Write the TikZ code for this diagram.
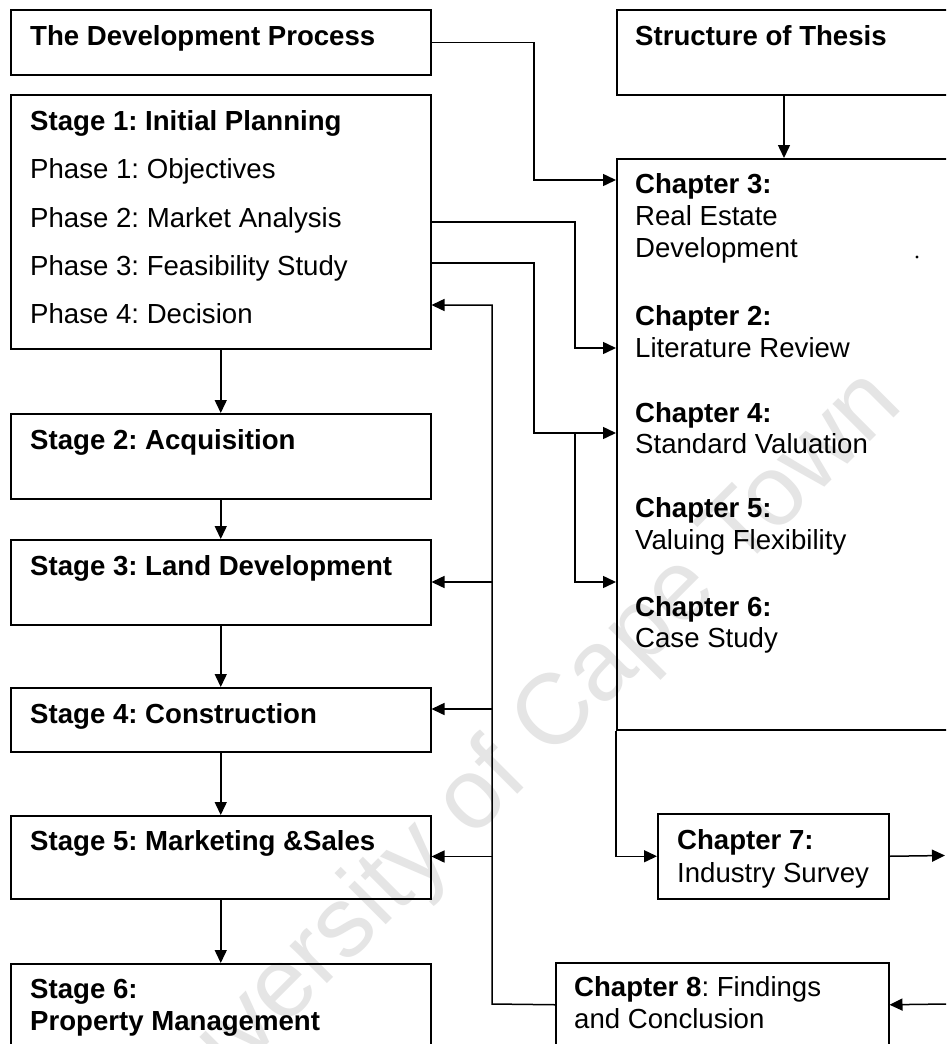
\documentclass[tikz,border=0pt]{standalone}
\usepackage{fontspec}
\setmainfont{Liberation Sans}
\usetikzlibrary{arrows.meta}
\frenchspacing
\newcommand\bodysize{\fontsize{27.6}{32}\selectfont}
\begin{document}
\begin{tikzpicture}[x=1pt,y=-1pt,
  box/.style={draw, line width=1.5pt, anchor=north west, inner sep=0pt, minimum width=420pt},
  lbl/.style={anchor=base west, inner sep=0pt, font=\bodysize},
  hd/.style={lbl, font=\bodysize\bfseries},
  link/.style={line width=1.5pt},
  arr/.style={link, -{Triangle[length=13pt,width=12pt]}}]
\useasboundingbox (0,0) rectangle (946,1044);
\clip (0,0) rectangle (946,1044);
\fill[white] (0,0) rectangle (946,1044);

% faint background stamp
\node[rotate=45, text=black!10, inner sep=0pt, font=\fontsize{100}{100}\selectfont] (stamp) at (505,770) {University of Cape Town};

% development process column
\node[box, minimum height=65pt] (dev) at (10,9) {};
\node[box, minimum height=254pt] (st1) at (10,94) {};
\node[box, minimum height=85pt] (st2) at (10,413) {};
\node[box, minimum height=85pt] (st3) at (10,539) {};
\node[box, minimum height=64pt] (st4) at (10,687) {};
\node[box, minimum height=83pt] (st5) at (10,815) {};
\node[box, minimum height=95pt] (st6) at (10,963) {};

\node[hd] (tdev) at (30,45) {The Development Process};
\node[hd] (ts1) at (30,130) {Stage 1: Initial Planning};
\node[lbl] (ph1) at (30,178) {Phase 1: Objectives};
\node[lbl] (ph2) at (30,227) {Phase 2: Market Analysis};
\node[lbl] (ph3) at (30,275) {Phase 3: Feasibility Study};
\node[lbl] (ph4) at (30,323) {Phase 4: Decision};
\node[hd] (ts2) at (30,449) {Stage 2: Acquisition};
\node[hd] (ts3) at (30,575) {Stage 3: Land Development};
\node[hd] (ts4) at (30,723) {Stage 4: Construction};
\node[hd] (ts5) at (30,850) {Stage 5: Marketing \&Sales};
\node[hd] (ts6a) at (30,998) {Stage 6:};
\node[hd] (ts6b) at (30,1030) {Property Management};

% thesis structure column
\node[box, minimum width=340pt, minimum height=85pt] (thesis) at (616,9) {};
\node[box, minimum width=340pt, minimum height=571pt] (body) at (616,158) {};
\node[box, minimum width=231pt, minimum height=85pt] (ch7) at (657,813) {};
\node[box, minimum width=333pt, minimum height=84pt] (ch8) at (555,962) {};

\node[hd] (tth) at (635,45) {Structure of Thesis};
\node[hd] (c3a) at (635,193) {Chapter 3:};
\node[lbl] (c3b) at (635,225) {Real Estate};
\node[lbl] (c3c) at (635,257) {Development};
\node[hd] (c2a) at (635,325) {Chapter 2:};
\node[lbl] (c2b) at (635,357) {Literature Review};
\node[hd] (c4a) at (635,422) {Chapter 4:};
\node[lbl] (c4b) at (635,453) {Standard Valuation};
\node[hd] (c5a) at (635,517) {Chapter 5:};
\node[lbl] (c5b) at (635,549) {Valuing Flexibility};
\node[hd] (c6a) at (635,616) {Chapter 6:};
\node[lbl] (c6b) at (635,647) {Case Study};
\node[hd] (c7a) at (677,849) {Chapter 7:};
\node[lbl] (c7b) at (677,882) {Industry Survey};
\node[lbl] (c8a) at (574,996) {\textbf{Chapter 8}: Findings};
\node[lbl] (c8b) at (574,1028) {and Conclusion};
\fill (917,257) circle (1.6pt);

% stage sequence
\draw[arr] (st1.south) -- (st2.north);
\draw[arr] (st2.south) -- (st3.north);
\draw[arr] (st3.south) -- (st4.north);
\draw[arr] (st4.south) -- (st5.north);
\draw[arr] (st5.south) -- (st6.north);

% routing points
\coordinate (r1) at (534,180);
\coordinate (p2) at (430,222);
\coordinate (r2) at (575,348);
\coordinate (p3) at (430,263);
\coordinate (r3) at (534,433);
\coordinate (r4) at (575,433);
\coordinate (r5) at (575,582);
\coordinate (tx) at (784,0);
\coordinate (fb) at (492,1004);
\coordinate (fbtop) at (492,305);
\coordinate (f3) at (492,582);
\coordinate (f4) at (492,709);
\coordinate (f5) at (492,856.5);
\coordinate (outA) at (945,855.5);
\coordinate (inB) at (946,1004);

% links between the columns
\draw[arr] (thesis.south -| tx) -- (body.north -| tx);
\draw[arr] (dev.east) -| (r1) -- (body.west |- r1);
\draw[arr] (p2) -| (r2) -- (body.west |- r2);
\draw[arr] (p3) -| (r3) -- (body.west |- r3);
\draw[arr] (r4) -- (r5) -- (body.west |- r5);
\draw[arr] (body.south west) |- (ch7.west);
\draw[arr] (ch7.east) -- (outA);
\draw[arr] (inB) -- (ch8.east);

% feedback from the findings
\draw[arr] (ch8.west) -- (fb) -- (fbtop) -- (st1.east |- fbtop);
\draw[arr] (f3) -- (st3.east |- f3);
\draw[arr] (f4) -- (st4.east |- f4);
\draw[arr] (f5) -- (st5.east |- f5);
\end{tikzpicture}
\end{document}
